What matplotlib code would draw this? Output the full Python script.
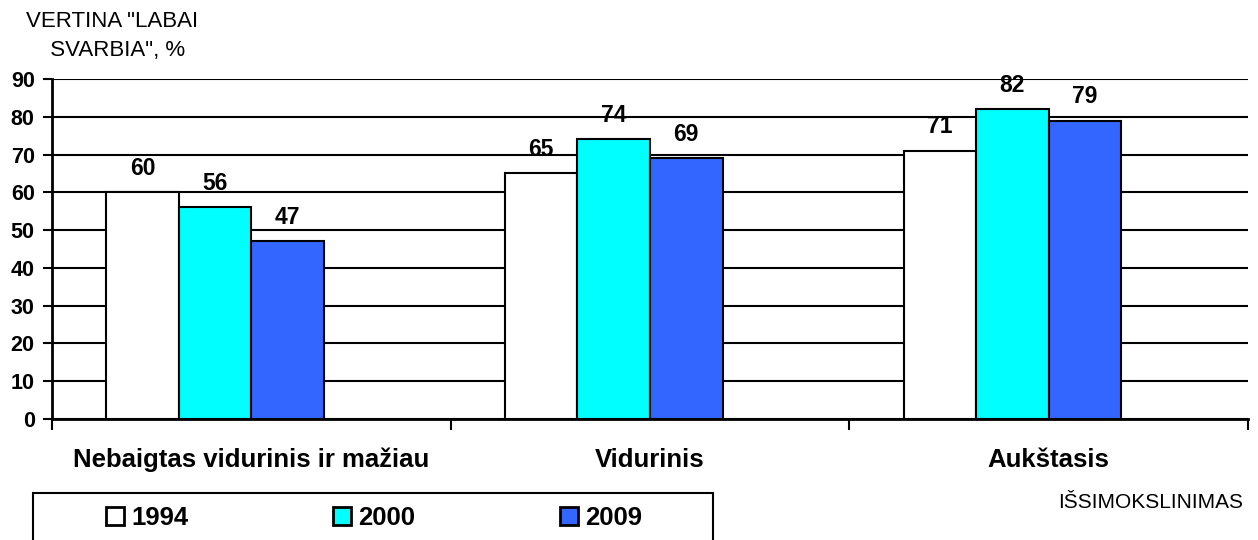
import matplotlib
matplotlib.use("Agg")
import matplotlib.pyplot as plt
from matplotlib.patches import Rectangle
import numpy as np

plt.rcParams["font.family"] = ["Liberation Sans", "DejaVu Sans"]

# Duomenys
categories = ["Nebaigtas vidurinis ir mažiau", "Vidurinis", "Aukštasis"]
years = ["1994", "2000", "2009"]
values = {
    "1994": [60, 65, 71],
    "2000": [56, 74, 82],
    "2009": [47, 69, 79],
}
colors = ["#FFFFFF", "#00FFFF", "#3366FF"]
y_ticks = list(range(0, 91, 10))

W, H = 1258, 540
fig = plt.figure(figsize=(W / 100, H / 100), dpi=100)
ax = fig.add_axes([52 / W, 121 / H, 1196 / W, 340 / H])

x = np.arange(len(categories))
w = 0.182
offsets = [-1.5, -0.5, 0.5]

for yr, col, off in zip(years, colors, offsets):
    bars = ax.bar(x + off * w, values[yr], width=w, color=col,
                  edgecolor="black", linewidth=1.5, label=yr, zorder=3)
    for b, v in zip(bars, values[yr]):
        ax.text(b.get_x() + b.get_width() / 2, v + 4.6, str(v),
                ha="center", va="baseline", fontsize=16.5, fontweight="bold", zorder=1)

ax.set_xlim(-0.5, 2.5)
ax.set_ylim(0, 90)
ax.set_yticks(y_ticks)
ax.set_yticklabels([str(t) for t in y_ticks], fontsize=15.5, fontweight="bold")
ax.yaxis.grid(True, color="black", linewidth=1.5, zorder=2)

ax.set_xticks([-0.5, 0.5, 1.5, 2.5])
ax.set_xticklabels([])
ax.tick_params(axis="x", length=8, width=1.5, direction="out")
ax.tick_params(axis="y", length=6.5, width=1.5, direction="out", pad=6)
for i, c in enumerate(categories):
    ax.text(i, -10.9, c, ha="center", va="center", fontsize=18.5, fontweight="bold")

for s in ["top", "right"]:
    ax.spines[s].set_visible(False)
ax.spines["left"].set_linewidth(2)
ax.spines["bottom"].set_linewidth(2)

fig.text(112 / W, 1 - 36 / H, 'VERTINA "LABAI\n  SVARBIA", %',
         ha="center", va="center", fontsize=16, linespacing=1.45)
fig.text(1243 / W, 1 - 502 / H, "IŠSIMOKSLINIMAS",
         ha="right", va="center", fontsize=15)

# legendos rėmelis (apačia nukirpta)
fig.patches.append(Rectangle((33 / W, -10 / H), 680 / W, (H - 493 + 10) / H,
                             transform=fig.transFigure, facecolor="white",
                             edgecolor="black", linewidth=1.5, zorder=0))
leg = fig.legend(loc="center left", bbox_to_anchor=(106 / W, 1 - 518 / H),
                 ncol=3, frameon=False, handlelength=0.7, handleheight=0.75,
                 handletextpad=0.27, columnspacing=5.65, borderpad=0,
                 borderaxespad=0, prop={"size": 18.5, "weight": "bold"})
for h in leg.legend_handles:
    h.set_linewidth(2)

fig.savefig("out.png", dpi=100)
